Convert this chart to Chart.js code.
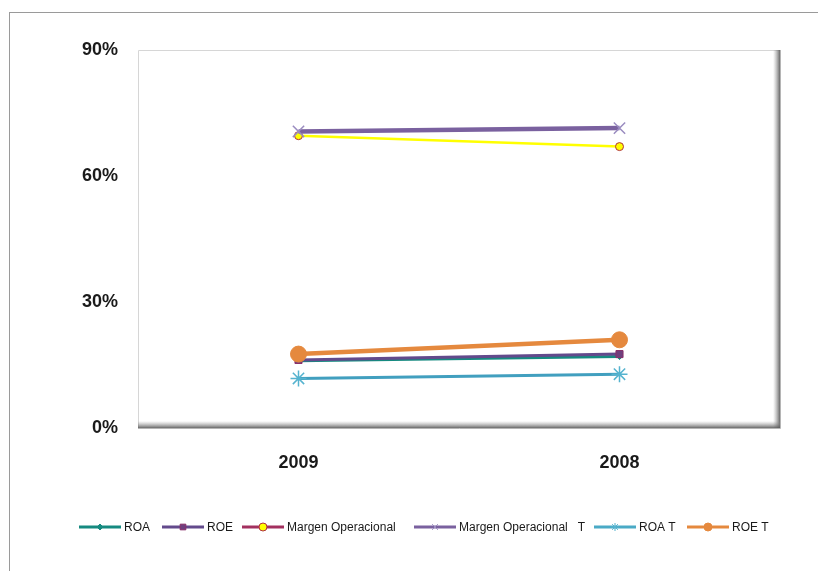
<!DOCTYPE html>
<html>
<head>
<meta charset="utf-8">
<script src="https://cdn.jsdelivr.net/npm/chart.js@4/dist/chart.umd.min.js"></script>
<style>
  html, body { margin: 0; padding: 0; background: #ffffff; }
  #wrap { position: relative; width: 818px; height: 571px; overflow: hidden; }
  #frame { position: absolute; left: 9px; top: 12px; width: 900px; height: 700px; border: 1px solid #9a9a9a; box-sizing: border-box; }
  #c { position: absolute; left: 0; top: 0; }
</style>
</head>
<body>
<div id="wrap">
  <div id="frame"></div>
  <canvas id="c" width="818" height="571"></canvas>
</div>
<script>
// ---- data ----
const categories = ["2009", "2008"];
const seriesNames = ["ROA", "ROE", "Margen Operacional", "Margen Operacional   T", "ROA T", "ROE T"];
const roa = [16.0, 17.0];
const roe = [16.2, 17.6];
const margenOperacional = [69.6, 67.0];
const margenOperacionalT = [70.6, 71.4];
const roaT = [11.8, 12.8];
const roeT = [17.6, 21.0];
const yTicks = [0, 30, 60, 90];

// ---- styles ----
const styles = [
  { line: "#168a80", legendLine: "#168a80", width: 3, point: "rectRot", radius: 3, fill: "#168a80", border: "#168a80", legendStart: 79 },
  { line: "#634a8c", legendLine: "#634a8c", width: 3, point: "rect", radius: 5, fill: "#6e3f7e", border: "#8a2f6a", legendStart: 162 },
  { line: "#ffff00", legendLine: "#a3305f", width: 2.5, point: "circle", radius: 4, fill: "#ffff00", border: "#b03040", legendStart: 242 },
  { line: "#7a619f", legendLine: "#7a619f", width: 4.5, point: "crossRot", radius: 8, fill: "#9a8cc0", border: "#9a8cc0", legendStart: 414 },
  { line: "#419fbf", legendLine: "#4aaac6", width: 3, point: "star", radius: 8, fill: "#55b3cf", border: "#55b3cf", legendStart: 594 },
  { line: "#e5893e", legendLine: "#e5893e", width: 4.5, point: "circle", radius: 8, fill: "#e5893e", border: "#e5893e", legendStart: 687 }
];
const values = [roa, roe, margenOperacional, margenOperacionalT, roaT, roeT];

const datasets = values.map((v, i) => ({
  label: seriesNames[i],
  data: v,
  borderColor: styles[i].line,
  backgroundColor: styles[i].fill,
  borderWidth: styles[i].width,
  pointStyle: styles[i].point,
  pointRadius: styles[i].radius,
  pointBackgroundColor: styles[i].fill,
  pointBorderColor: styles[i].border,
  pointBorderWidth: styles[i].point === "crossRot" || styles[i].point === "star" ? 1.5 : 1,
  tension: 0,
  order: values.length - i,
  clip: false
}));

const plotAreaPlugin = {
  id: "plotArea",
  beforeDatasetsDraw(chart) {
    const { ctx, chartArea: a } = chart;
    ctx.save();
    ctx.strokeStyle = "#d6d6d6";
    ctx.lineWidth = 1;
    ctx.beginPath();
    ctx.moveTo(a.left + 0.5, a.bottom);
    ctx.lineTo(a.left + 0.5, a.top + 0.5);
    ctx.lineTo(a.right, a.top + 0.5);
    ctx.stroke();
    let g = ctx.createLinearGradient(a.right - 7, 0, a.right, 0);
    g.addColorStop(0, "rgba(150,150,150,0)");
    g.addColorStop(1, "rgba(90,90,90,0.9)");
    ctx.fillStyle = g;
    ctx.fillRect(a.right - 7, a.top, 7, a.bottom - a.top);
    g = ctx.createLinearGradient(0, a.bottom - 7, 0, a.bottom);
    g.addColorStop(0, "rgba(150,150,150,0)");
    g.addColorStop(1, "rgba(90,90,90,0.9)");
    ctx.fillStyle = g;
    ctx.fillRect(a.left, a.bottom - 7, a.right - a.left, 7);
    ctx.strokeStyle = "#b5b5b5";
    ctx.beginPath();
    ctx.moveTo(a.right + 0.5, a.top);
    ctx.lineTo(a.right + 0.5, a.bottom + 0.5);
    ctx.lineTo(a.left, a.bottom + 0.5);
    ctx.stroke();
    ctx.restore();
  }
};

const legendPlugin = {
  id: "customLegend",
  afterDraw(chart) {
    const { ctx } = chart;
    const y = 527;
    ctx.save();
    chart.data.datasets.forEach((ds, i) => {
      const st = styles[i];
      const x0 = st.legendStart;
      ctx.strokeStyle = st.legendLine;
      ctx.lineWidth = 3;
      ctx.beginPath();
      ctx.moveTo(x0, y);
      ctx.lineTo(x0 + 42, y);
      ctx.stroke();
      ctx.fillStyle = st.fill;
      ctx.strokeStyle = st.border;
      ctx.lineWidth = 1;
      Chart.helpers.drawPoint(ctx, { pointStyle: st.point, radius: Math.min(st.radius, 4), rotation: 0, borderWidth: 1 }, x0 + 21, y);
      ctx.fillStyle = "#1a1a1a";
      ctx.font = "12px 'Liberation Sans', Arial, sans-serif";
      ctx.textBaseline = "middle";
      ctx.textAlign = "left";
      ctx.fillText(ds.label, x0 + 45, y + 1);
    });
    ctx.restore();
  }
};

new Chart(document.getElementById("c"), {
  type: "line",
  data: { labels: categories, datasets },
  options: {
    responsive: false,
    animation: false,
    events: [],
    layout: { padding: { top: 50, right: 38, left: 0, bottom: 0 } },
    plugins: { legend: { display: false }, tooltip: { enabled: false } },
    scales: {
      x: {
        offset: true,
        grid: { display: false, drawTicks: false },
        border: { display: false },
        ticks: { color: "#1a1a1a", padding: 24, font: { family: "'Liberation Sans', Arial, sans-serif", size: 18, weight: "bold" } },
        afterFit(s) { s.height = 143; }
      },
      y: {
        min: 0, max: 90,
        afterBuildTicks(s) { s.ticks = yTicks.map(v => ({ value: v })); },
        grid: { display: false, drawTicks: false },
        border: { display: false },
        ticks: {
          color: "#1a1a1a", padding: 20,
          font: { family: "'Liberation Sans', Arial, sans-serif", size: 18, weight: "bold" },
          callback: v => v + "%"
        },
        afterFit(s) { s.width = 138; }
      }
    }
  },
  plugins: [plotAreaPlugin, legendPlugin]
});
</script>
</body>
</html>
